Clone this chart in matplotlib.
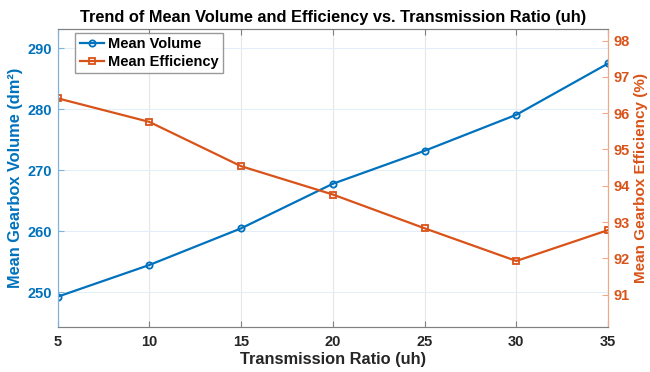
import matplotlib
matplotlib.use("Agg")
import matplotlib.pyplot as plt

ratios = [5, 10, 15, 20, 25, 30, 35]
mean_volume = [249.3, 254.5, 260.5, 267.8, 273.2, 279.1, 287.5]
mean_efficiency = [96.41, 95.76, 94.54, 93.76, 92.83, 91.93, 92.78]
vol_ticks = [250, 260, 270, 280, 290]
eff_ticks = [91, 92, 93, 94, 95, 96, 97, 98]

blue = "#0072BD"
orange = "#D95319"
dark = "#262626"

plt.rcParams['font.family'] = ['Liberation Sans', 'DejaVu Sans']
plt.rcParams['font.weight'] = 'bold'

fig = plt.figure(figsize=(6.5, 3.72), dpi=100)
ax = fig.add_axes([0.0885, 0.1218, 0.847, 0.7995])
ax2 = ax.twinx()

l1, = ax.plot(ratios, mean_volume, color=blue, lw=1.6, marker='o', ms=4.5,
              mfc='none', mew=1.3, label='Mean Volume')
l2, = ax2.plot(ratios, mean_efficiency, color=orange, lw=1.6, marker='s', ms=4,
               mfc='none', mew=1.3, label='Mean Efficiency')

ax.set_xlim(5, 35)
ax.set_ylim(244.4, 293.1)
ax2.set_ylim(90.12, 98.31)
ax.set_xticks(ratios)
ax.set_yticks(vol_ticks)
ax2.set_yticks(eff_ticks)

ax.grid(axis='x', color='#e6e6e6', lw=0.8)
ax.grid(axis='y', color='#e3eef8', lw=0.8)
ax.set_axisbelow(True)

ax.tick_params(axis='x', direction='in', top=True, colors='#808080', labelcolor=dark,
               labelsize=10.5, length=4, pad=6)
ax.tick_params(axis='y', direction='in', colors='#7fb3db', labelcolor=blue,
               labelsize=10.5, length=4, pad=4)
ax2.tick_params(axis='y', direction='in', colors='#f0a889', labelcolor=orange,
                labelsize=10.5, length=4, pad=4)
for lab in ax.get_xticklabels() + ax.get_yticklabels() + ax2.get_yticklabels():
    lab.set_fontweight('bold')

for a in (ax, ax2):
    a.spines['top'].set_color('#808080')
    a.spines['bottom'].set_color('#808080')
    a.spines['left'].set_color('#7fb3db')
    a.spines['right'].set_color('#f0a889')

ax.set_xlabel('Transmission Ratio (uh)', fontsize=11.8, fontweight='bold', color=dark, labelpad=2)
ax.set_ylabel('Mean Gearbox Volume (dm²)', fontsize=11.8, fontweight='bold', color=blue, labelpad=3)
ax2.set_ylabel('Mean Gearbox Efficiency (%)', fontsize=11, fontweight='bold', color=orange, labelpad=3)
ax.set_title('Trend of Mean Volume and Efficiency vs. Transmission Ratio (uh)',
             fontsize=11.8, fontweight='bold', color='black', pad=5)

leg = ax2.legend(handles=[l1, l2], loc='upper left', bbox_to_anchor=(0.032, 0.988),
                 borderaxespad=0, frameon=True, fancybox=False, edgecolor='#808080',
                 handlelength=1.7, borderpad=0.3, labelspacing=0.25, handletextpad=0.25,
                 prop={'weight': 'bold', 'size': 10.5})
leg.get_frame().set_linewidth(1.0)

fig.savefig('out.png', dpi=100)
